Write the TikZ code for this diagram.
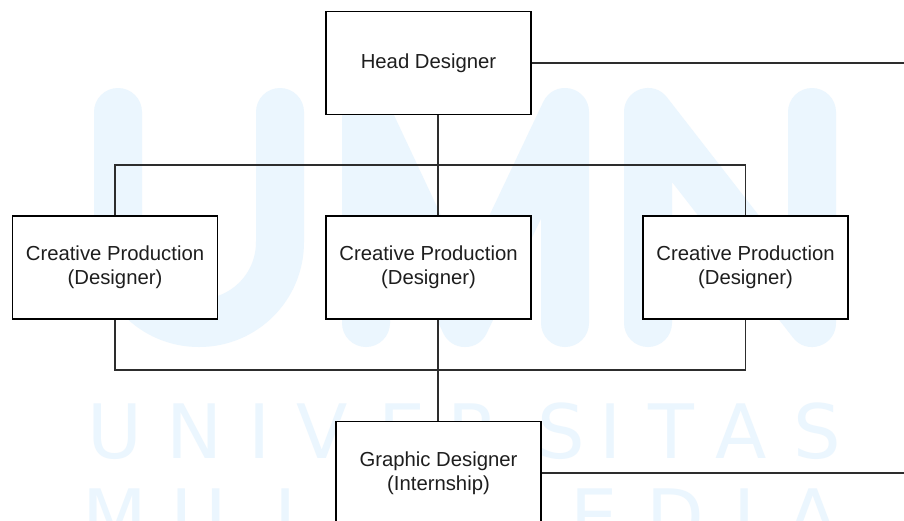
\documentclass[tikz,border=0pt]{standalone}
\usepackage{fontspec}
\setmainfont{Liberation Sans}
\newfontfamily\wmfont{DejaVu Sans}
\definecolor{wmblue}{RGB}{235,246,254}
\definecolor{inkgray}{RGB}{30,30,30}
\definecolor{linkgray}{RGB}{45,45,45}
\begin{document}
\begin{tikzpicture}[x=1pt,y=-1pt,
  box/.style={draw=black, line width=1.6pt, fill=white,
    minimum width=205pt, minimum height=103pt, inner sep=0pt,
    align=center, text=inkgray, font=\fontsize{20.3}{24.4}\selectfont},
  link/.style={draw=linkgray, line width=1.6pt},
  wmstroke/.style={draw=wmblue, line width=48pt, line cap=round, line join=round},
  wmletter/.style={text=wmblue, font=\wmfont\fontsize{75}{75}\selectfont,
    inner sep=0pt, anchor=base}]
\clip (0,0) rectangle (904,520);
\fill[white] (0,0) rectangle (904,520);

% background logo: U M N
\draw[wmstroke] (118,112) -- (118,242)
  .. controls (118,287) and (154,323) .. (199,323)
  .. controls (244,323) and (280,287) .. (280,242) -- (280,112);
\draw[wmstroke] (366,323) -- (366,112) -- (465,323) -- (565,112) -- (565,323);
\draw[wmstroke] (648,323) -- (648,112) -- (812,323) -- (812,112);

% background lettering
\foreach \ch/\cx in {U/115, N/195, I/260, V/322, E/402, R/474, S/561, I/611, T/671, A/741, S/817}
  \node[wmletter] at (\cx,458) {\ch};
\foreach \ch/\cx in {M/115, U/199, L/295, T/370, I/440, M/510, E/594, D/675, I/745, A/813}
  \node[wmletter] at (\cx,543) {\ch};

% boxes
\node[box] (head)   at (428.5,63)    {Head Designer};
\node[box] (cpL)    at (115,267.5)   {Creative Production\\(Designer)};
\node[box] (cpM)    at (428.5,267.5) {Creative Production\\(Designer)};
\node[box] (cpR)    at (745.5,267.5) {Creative Production\\(Designer)};
\node[box] (intern) at (438.5,473)   {Graphic Designer\\(Internship)};

% junction points of the buses
\coordinate (busTop) at (438,165);
\coordinate (busBot) at (438,370);
\coordinate (rightEdge) at (906,0);

% connectors
\draw[link] (head.south -| busTop) -- (busTop);
\draw[link] (cpL.north) |- (busTop) -| (cpR.north);
\draw[link] (busTop) -- (cpM.north -| busTop);
\draw[link] (cpL.south) |- (busBot) -| (cpR.south);
\draw[link] (cpM.south -| busBot) -- (busBot) -- (intern.north -| busBot);
\draw[link] (head.east) -- (head.east -| rightEdge);
\draw[link] (intern.east) -- (intern.east -| rightEdge);
\end{tikzpicture}
\end{document}
